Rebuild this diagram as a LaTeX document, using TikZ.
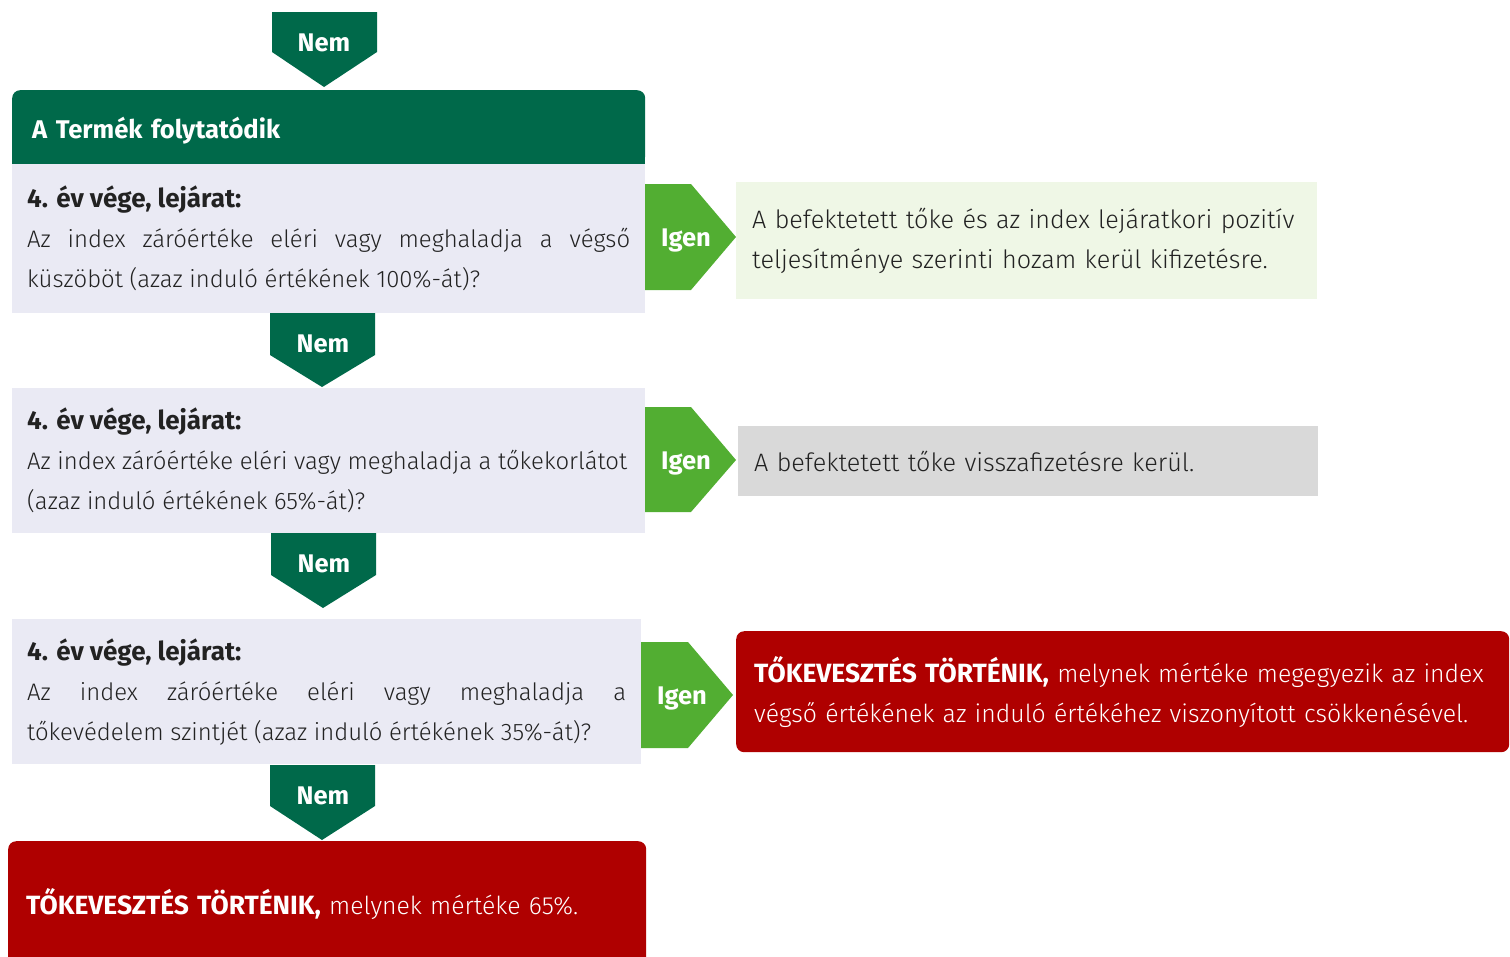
\documentclass[tikz,border=0pt]{standalone}
\usepackage{fontspec}
\setmainfont{Fira Sans Light}[BoldFont={Fira Sans Bold}]
\usetikzlibrary{positioning}
\definecolor{dkgreen}{RGB}{0,105,74}
\definecolor{igengreen}{RGB}{82,174,50}
\definecolor{qgrey}{RGB}{234,234,244}
\definecolor{lgreen}{RGB}{239,247,230}
\definecolor{rgrey}{RGB}{217,217,217}
\definecolor{lossred}{RGB}{175,0,0}
\definecolor{txt}{RGB}{34,34,34}
\newcommand{\evvege}{{\bfseries\fontsize{26}{40}\selectfont 4. év vége, lejárat:}}
\newcommand{\veszt}{{\bfseries\fontsize{26.4}{40}\selectfont TŐKEVESZTÉS TÖRTÉNIK,}}

\begin{document}
\begin{tikzpicture}[
		x=1pt, y=-1pt,
		question/.style={fill=qgrey, anchor=north west, minimum width=633pt, inner xsep=15pt, text width=603pt, align=justify, text=txt, font=\fontsize{23.9}{40}\selectfont},
		result/.style={anchor=north west, inner xsep=16pt, text width=549pt, align=left, text=txt, font=\fontsize{25.2}{40}\selectfont},
		loss/.style={fill=lossred, rounded corners=8pt, anchor=north west, inner xsep=18pt, align=left, text=white, font=\fontsize{24.8}{40}\selectfont},
		header/.style={fill=dkgreen, rounded corners=8pt, anchor=north west, minimum width=633pt, minimum height=74pt, inner xsep=20pt, text width=593pt, text height=28pt, align=left, text=white, font=\bfseries\fontsize{25.6}{30}\selectfont},
		nolabel/.style={text=white, font=\bfseries\fontsize{25.5}{30}\selectfont},
		yeslabel/.style={text=white, font=\bfseries\fontsize{25.5}{30}\selectfont},
	]
	\useasboundingbox (0,0) rectangle (1510,956);

	% start
	\fill[dkgreen] (272,12) -- (377,12) -- (377,52) -- (324,87) -- (272,52) -- cycle;
	\node[nolabel] (nem0) at (324,43) {Nem};

	\node[header] (head) at (12,90) {A Termék folytatódik};
	\fill[dkgreen] (head.south west) rectangle ([yshift=10pt]head.south east);

	% first check
	\node[question, minimum height=149pt] (q1) at (12,164) {\evvege\\ Az index záróértéke eléri vagy meghaladja a végső\linebreak küszöböt (azaz induló értékének 100\%-át)?};
	\fill[igengreen] (645,184) -- (691,184) -- (736,237) -- (691,290) -- (645,290) -- cycle;
	\node[yeslabel] (igen1) at (686,240) {Igen};
	\node[result, fill=lgreen, minimum width=581pt, minimum height=117pt] (r1) at (736,182) {A befektetett tőke és az index lejáratkori pozitív\\ teljesítménye szerinti hozam kerül kifizetésre.};

	\fill[dkgreen] (270,313) -- (375,313) -- (375,355) -- (322,387) -- (270,355) -- cycle;
	\node[nolabel] (nem1) at (323,344) {Nem};

	% second check
	\node[question, minimum height=145pt] (q2) at (12,388) {\evvege\\ Az index záróértéke eléri vagy meghaladja a tőkekorlátot\\ (azaz induló értékének 65\%-át)?};
	\fill[igengreen] (645,407) -- (691,407) -- (736,460) -- (691,512) -- (645,512) -- cycle;
	\node[yeslabel] (igen2) at (686,463) {Igen};
	\node[result, fill=rgrey, text width=548pt, minimum width=580pt, minimum height=70pt] (r2) at (738,426) {A befektetett tőke visszafizetésre kerül.};

	\fill[dkgreen] (271,533) -- (376,533) -- (376,575) -- (323,608) -- (271,575) -- cycle;
	\node[nolabel] (nem2) at (324,564) {Nem};

	% third check
	\node[question, minimum width=629pt, text width=599pt, minimum height=145pt] (q3) at (12,619) {\evvege\\ Az index záróértéke eléri vagy meghaladja a\linebreak tőkevédelem szintjét (azaz induló értékének 35\%-át)?};
	\fill[igengreen] (641,642) -- (688,642) -- (733,695) -- (688,748) -- (641,748) -- cycle;
	\node[yeslabel] (igen3) at (682,698) {Igen};
	\node[loss, minimum width=773pt, minimum height=121pt, text width=737pt] (r3) at (736,631) {\veszt{} melynek mértéke megegyezik az index\\ végső értékének az induló értékéhez viszonyított csökkenésével.};

	\fill[dkgreen] (270,765) -- (375,765) -- (375,806) -- (322,840) -- (270,806) -- cycle;
	\node[nolabel] (nem3) at (323,796) {Nem};

	% end
	\node[loss, minimum width=638pt, minimum height=126pt, text width=602pt] (final) at (8,841) {\veszt{} melynek mértéke 65\%.};
\end{tikzpicture}
\end{document}
